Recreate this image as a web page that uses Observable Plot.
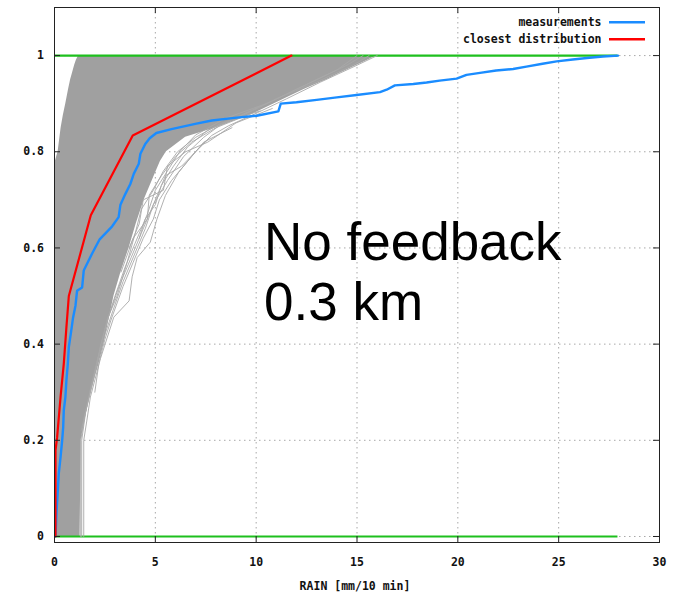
<!DOCTYPE html>
<html>
<head>
<meta charset="utf-8">
<script src="https://cdn.jsdelivr.net/npm/d3@7"></script>
<script src="https://cdn.jsdelivr.net/npm/@observablehq/plot@0.6"></script>
<style>
  html, body { margin: 0; padding: 0; background: #fff; }
  #chart { width: 673px; height: 596px; }
</style>
</head>
<body>
<div id="chart"></div>
<script>
// ---- tick labels ----
const xTicks = [0, 5, 10, 15, 20, 25, 30];
const yTicks = [0, 0.2, 0.4, 0.6, 0.8, 1];
const xGrid = [5, 10, 15, 20, 25];
const yGrid = [0, 0.2, 0.4, 0.6, 0.8, 1];

// ---- measurements (empirical CDF) ----
const measX = [0.05, 0.1, 0.16, 0.21, 0.3, 0.38, 0.43, 0.46, 0.54, 0.59, 0.66, 0.71, 0.83, 0.92, 1.04, 1.12, 1.37, 1.45, 1.86, 2.24, 2.86, 3.18, 3.27, 3.51, 3.76, 3.93, 4.18, 4.26, 4.5, 4.72, 5.05, 5.8, 6.98, 7.8, 8.6, 9.04, 10.03, 11.1, 11.22, 12.0, 13.0, 14.0, 14.98, 16.14, 16.47, 16.88, 17.79, 18.45, 19.1, 19.94, 20.43, 21.1, 21.9, 22.74, 23.4, 24.2, 24.9, 25.7, 26.4, 27.2, 27.94];
const measY = [0, 0.05, 0.092, 0.13, 0.165, 0.2, 0.227, 0.262, 0.29, 0.324, 0.359, 0.394, 0.428, 0.455, 0.48, 0.511, 0.518, 0.553, 0.588, 0.618, 0.645, 0.664, 0.69, 0.712, 0.733, 0.754, 0.775, 0.796, 0.816, 0.828, 0.839, 0.847, 0.858, 0.865, 0.869, 0.871, 0.875, 0.884, 0.9, 0.903, 0.908, 0.913, 0.918, 0.924, 0.929, 0.938, 0.941, 0.944, 0.948, 0.952, 0.96, 0.964, 0.969, 0.972, 0.977, 0.983, 0.988, 0.992, 0.995, 0.998, 1.0];

// ---- closest distribution ----
const closeX = [0.05, 0.05, 0.13, 0.3, 0.46, 0.59, 0.71, 1.8, 3.88, 11.75];
const closeY = [0, 0.179, 0.206, 0.29, 0.359, 0.435, 0.5, 0.668, 0.834, 1.0];

// ---- ensemble envelope (dense grey band) ----
const envY     = [0,    0.2,  0.25, 0.3,  0.35, 0.4,  0.45, 0.5,  0.55, 0.6, 0.65, 0.7, 0.75, 0.78, 0.8,  0.83, 0.85, 0.876, 0.9,  0.93, 0.95, 0.96, 0.98, 0.99, 1.0];
const envLeft  = [0,    0,    0,    0,    0,    0,    0,    0,    0,    0,   0,    0,   0,    0.04, 0.18, 0.27, 0.33, 0.44,  0.56, 0.7,  0.8,  0.87, 1.0,  1.08, 1.2];
const envRight = [1.27, 1.32, 1.55, 1.8,  2.15, 2.45, 2.7,  2.95, 3.3,  3.7, 4.05, 4.45, 4.95, 5.25, 5.55, 6.5,  8.0,  9.7,   10.9, 12.4, 13.5, 14.0, 15.0, 15.5, 16.0];

// ---- individual ensemble members at the outer fringe ----
const fringeA_x = [1.45, 1.45, 1.6, 1.78, 2.28, 2.94, 3.7, 3.85, 4.1, 4.75, 5.08, 5.5, 6.15, 6.98, 7.8, 8.63, 10.0, 11.5, 13.2, 15.0, 16.0];
const fringeA_y = [0, 0.2, 0.24, 0.29, 0.37, 0.456, 0.49, 0.54, 0.58, 0.612, 0.66, 0.709, 0.757, 0.8, 0.834, 0.854, 0.88, 0.91, 0.945, 0.98, 1.0];
const fringeB_x = [1.35, 1.35, 1.55, 1.9, 2.3, 2.7, 3.2, 3.8, 4.3, 4.8, 5.3, 5.9, 6.6, 7.6, 9.2, 11.0, 13.0, 14.8, 15.6];
const fringeB_y = [0, 0.2, 0.26, 0.32, 0.4, 0.46, 0.52, 0.58, 0.63, 0.68, 0.73, 0.77, 0.81, 0.845, 0.875, 0.91, 0.945, 0.98, 1.0];
const fringeC_x = [1.3, 1.3, 1.5, 1.8, 2.2, 2.55, 3.0, 3.5, 4.0, 4.6, 5.0, 5.6, 6.2, 7.0, 8.5, 10.5, 12.5, 14.5, 15.3];
const fringeC_y = [0, 0.2, 0.25, 0.31, 0.38, 0.44, 0.5, 0.56, 0.61, 0.67, 0.72, 0.76, 0.8, 0.835, 0.87, 0.9, 0.94, 0.98, 1.0];
const fringeD_x = [1.32, 1.65, 2.0, 2.5, 2.9, 3.4, 4.1, 4.5, 4.9, 5.6, 6.4, 7.4, 8.2, 9.8, 12.0, 14.0, 15.0];
const fringeD_y = [0.22, 0.28, 0.34, 0.42, 0.47, 0.53, 0.6, 0.64, 0.69, 0.74, 0.79, 0.83, 0.855, 0.885, 0.93, 0.97, 1.0];
const fringeE_x = [3.7, 4.2, 4.4, 5.4, 5.6, 6.5, 7.6, 9.0, 10.8];
const fringeE_y = [0.6, 0.65, 0.7, 0.72, 0.77, 0.8, 0.82, 0.86, 0.89];
const fringeF_x = [3.3, 3.9, 4.6, 4.7, 5.3, 6.0, 6.8, 8.0, 9.5];
const fringeF_y = [0.55, 0.62, 0.66, 0.71, 0.75, 0.79, 0.82, 0.85, 0.875];
const fringeG_x = [2.6, 3.1, 3.6, 4.0, 4.3, 4.9, 5.4, 6.1, 7.0, 8.3, 10.2];
const fringeG_y = [0.45, 0.5, 0.57, 0.63, 0.68, 0.72, 0.76, 0.8, 0.83, 0.86, 0.885];
const fringeH_x = [2.0, 2.2, 2.5, 2.8, 3.4, 3.9, 4.4, 4.9, 5.2, 5.8, 6.8, 7.4, 8.8];
const fringeH_y = [0.3, 0.36, 0.41, 0.45, 0.52, 0.57, 0.62, 0.66, 0.7, 0.74, 0.79, 0.82, 0.85];
const fringeI_x = [4.2, 4.5, 5.0, 5.3, 5.5, 6.3, 7.0, 7.7];
const fringeI_y = [0.62, 0.66, 0.69, 0.73, 0.75, 0.77, 0.8, 0.83];

const legendLabels = ["measurements", "closest distribution"];
const legendColors = ["#1a8cff", "#ff0000"];
const annotation = ["No feedback", "0.3 km"];
const xLabel = "RAIN [mm/10 min]";

// build tables
const zip = (xs, ys) => xs.map((x, i) => ({x, y: ys[i]}));
const meas = zip(measX, measY);
const close = zip(closeX, closeY);
const env = envY.map((y, i) => ({y, x1: envLeft[i], x2: envRight[i]}));
const fringes = [
  [fringeA_x, fringeA_y], [fringeB_x, fringeB_y], [fringeC_x, fringeC_y],
  [fringeD_x, fringeD_y], [fringeE_x, fringeE_y], [fringeF_x, fringeF_y],
  [fringeG_x, fringeG_y], [fringeH_x, fringeH_y], [fringeI_x, fringeI_y]
].flatMap(([xs, ys], k) => zip(xs, ys).map(d => ({...d, k})));
const measMax = d3.max(measX);

const W = 673, H = 596;
const mL = 54, mR = 14, mT = 7, mB = 54;
const innerW = W - mL - mR, innerH = H - mT - mB;
const font = "DejaVu Sans Mono";

const plot = Plot.plot({
  width: W, height: H,
  marginLeft: mL, marginRight: mR, marginTop: mT, marginBottom: mB,
  x: {domain: [0, 30]},
  y: {domain: [-0.0125, 1.1]},
  style: {background: "#fff", fontFamily: font},
  marks: [
    Plot.ruleX(xGrid, {stroke: "#a8a8a8", strokeWidth: 1, strokeDasharray: "1.5,3.5"}),
    Plot.ruleY(yGrid, {stroke: "#a8a8a8", strokeWidth: 1, strokeDasharray: "1.5,3.5"}),
    Plot.areaX(env, {y: "y", x1: "x1", x2: "x2", fill: "#a0a0a0"}),
    Plot.ruleY([0, 1], {x1: 0, x2: measMax, stroke: "#1ec01e", strokeWidth: 2.2}),
    Plot.line(fringes, {x: "x", y: "y", z: "k", stroke: "#a8a8a8", strokeWidth: 0.9}),
    Plot.line(meas, {x: "x", y: "y", stroke: legendColors[0], strokeWidth: 2.4}),
    Plot.line(close, {x: "x", y: "y", stroke: legendColors[1], strokeWidth: 2.2}),
    Plot.frame({stroke: "#222", strokeWidth: 1}),
    // inward ticks
    Plot.ruleX(xTicks, {insetTop: innerH - 6, stroke: "#222"}),
    Plot.ruleX(xTicks, {insetBottom: innerH - 6, stroke: "#222"}),
    Plot.ruleY(yTicks, {insetRight: innerW - 6, stroke: "#222"}),
    Plot.ruleY(yTicks, {insetLeft: innerW - 6, stroke: "#222"}),
    Plot.axisX(xTicks, {tickSize: 0, tickPadding: 15, fontSize: 11.5, fontWeight: "bold", fill: "#111", tickFormat: d => String(d), label: null}),
    Plot.axisY(yTicks, {tickSize: 0, tickPadding: 10.5, fontSize: 11.5, fontWeight: "bold", fill: "#111", tickFormat: d => String(d), label: null}),
    Plot.text([xLabel], {frameAnchor: "bottom", dy: 44, dx: -2, lineAnchor: "middle", fontSize: 11.5, fontWeight: "bold", fill: "#111"})
  ]
});

document.getElementById("chart").appendChild(plot);

// overlay: legend and annotation in pixel space of the frame
const svg = d3.select(plot);
const leg = svg.append("g").attr("font-family", font).attr("font-size", 11.5).attr("font-weight", "bold");
legendLabels.forEach((lab, i) => {
  const cy = 22.3 + i * 17;
  leg.append("text").attr("x", 601.5).attr("y", cy).attr("dy", "0.35em")
    .attr("text-anchor", "end").attr("fill", "#111").text(lab);
  leg.append("line").attr("x1", 609).attr("x2", 645).attr("y1", cy).attr("y2", cy)
    .attr("stroke", legendColors[i]).attr("stroke-width", 2.4);
});
const ann = svg.append("g").attr("font-family", "Liberation Sans, Arial, sans-serif")
  .attr("font-size", 53).attr("fill", "#000").attr("text-anchor", "start");
annotation.forEach((t, i) => {
  ann.append("text").attr("x", 264).attr("y", 260 + i * 60).attr("text-anchor", "start").text(t);
});
</script>
</body>
</html>
